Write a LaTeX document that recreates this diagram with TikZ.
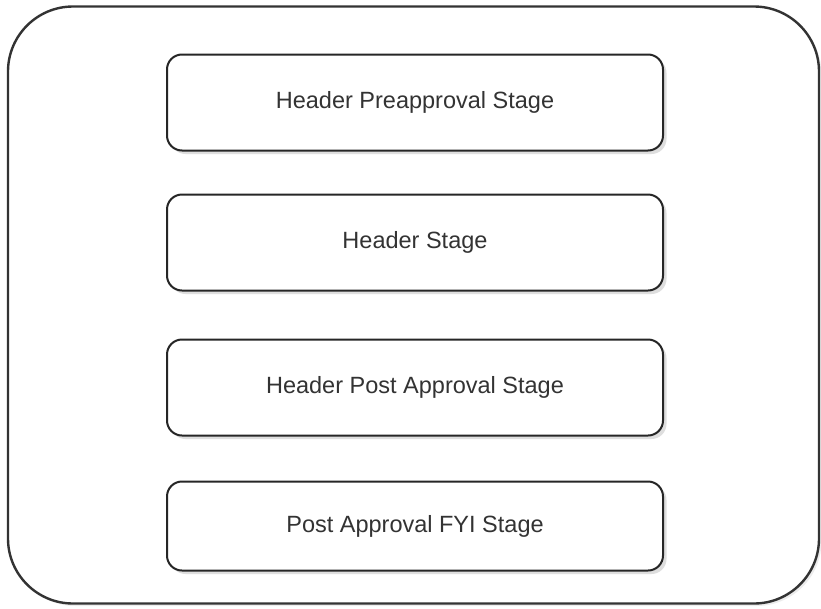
\documentclass[tikz,border=0pt]{standalone}
\usepackage{fontspec}
\setmainfont{Liberation Sans}
\usetikzlibrary{positioning, shadows}

\begin{document}
\begin{tikzpicture}[
    x=1pt, y=-1pt,
    node distance=44pt,
    font=\fontsize{23.5}{28}\selectfont,
    frame/.style={draw=black!80, line width=2.4pt, rounded corners=65pt,
      minimum width=811pt, minimum height=597pt,
      drop shadow={shadow xshift=2.5pt, shadow yshift=-2.5pt, fill=black!15}, fill=white},
    stage/.style={draw=black!85, line width=2pt, rounded corners=15pt,
      minimum width=496pt, minimum height=96pt, text=black!80,
      drop shadow={shadow xshift=3.5pt, shadow yshift=-3.5pt, fill=black!25}, fill=white},
]
  \useasboundingbox (0,0) rectangle (821,608);
  \node[frame] (outer) at (413.5,305) {};
  \node[stage] (pre) at (415,102.5) {Header Preapproval Stage};
  \node[stage, below=42pt of pre] (hdr) {Header Stage};
  \node[stage, below=47pt of hdr] (post) {Header Post Approval Stage};
  \node[stage, below=44pt of post, minimum height=89pt] (fyi) {Post Approval FYI Stage};
\end{tikzpicture}
\end{document}
